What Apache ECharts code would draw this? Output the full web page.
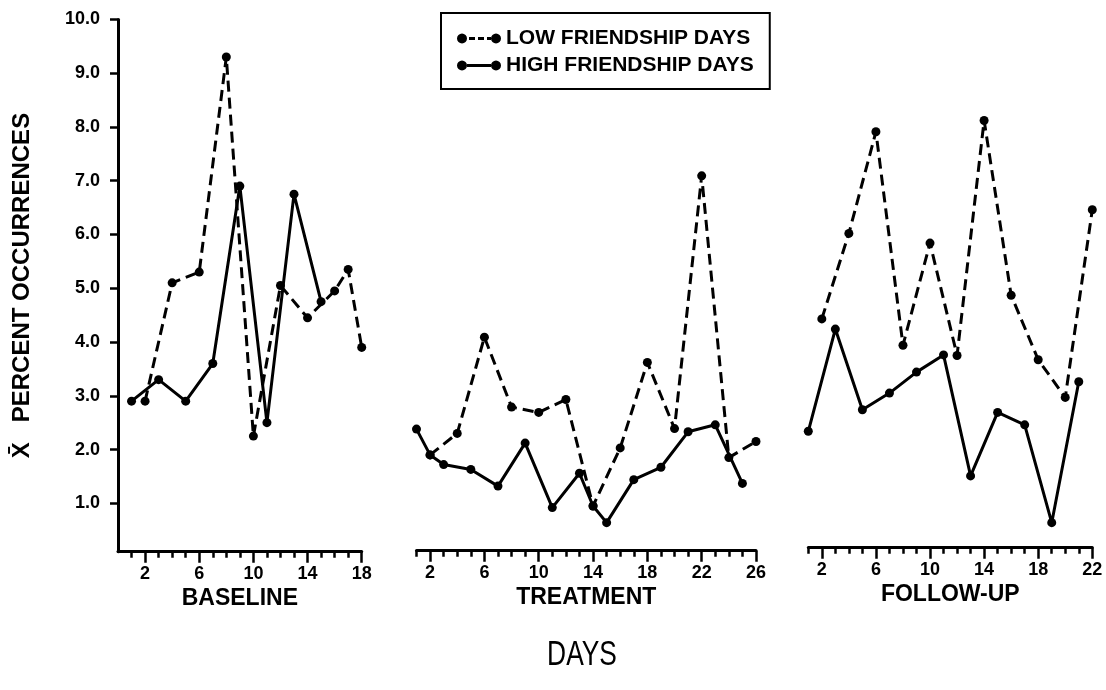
<!DOCTYPE html>
<html>
<head>
<meta charset="utf-8">
<script src="https://cdn.jsdelivr.net/npm/echarts@6/dist/echarts.min.js"></script>
<style>html,body{margin:0;padding:0;background:#fff}#c{width:1106px;height:690px}</style>
</head>
<body>
<div id="c"></div>
<script>
// ---- data ----
const baselineHighDays = [1, 3, 5, 7, 9, 11, 13, 15];
const baselineHigh     = [2.9, 3.3, 2.9, 3.6, 6.9, 2.5, 6.75, 4.75];
const baselineLowDays  = [2, 4, 6, 8, 10, 12, 14, 16, 17, 18];
const baselineLow      = [2.9, 5.1, 5.3, 9.3, 2.25, 5.05, 4.45, 4.95, 5.35, 3.9];

const treatmentHighDays = [1, 2, 3, 5, 7, 9, 11, 13, 14, 15, 17, 19, 21, 23, 25];
const treatmentHigh     = [2.38, 1.9, 1.72, 1.63, 1.32, 2.12, 0.92, 1.56, 0.95, 0.64, 1.44, 1.67, 2.33, 2.46, 1.37];
const treatmentLowDays  = [2, 4, 6, 8, 10, 12, 14, 16, 18, 20, 22, 24, 26];
const treatmentLow      = [1.9, 2.3, 4.09, 2.79, 2.69, 2.93, 0.95, 2.03, 3.62, 2.39, 7.09, 1.85, 2.15];

const followHighDays = [1, 3, 5, 7, 9, 11, 13, 15, 17, 19, 21];
const followHigh     = [2.34, 4.24, 2.74, 3.05, 3.44, 3.76, 1.51, 2.69, 2.46, 0.64, 3.26];
const followLowDays  = [2, 4, 6, 8, 10, 12, 14, 16, 18, 20, 22];
const followLow      = [4.43, 6.02, 7.91, 3.94, 5.84, 3.75, 8.12, 4.87, 3.67, 2.97, 6.46];

const yTickValues        = [1, 2, 3, 4, 5, 6, 7, 8, 9, 10];
const baselineLabelDays  = [2, 6, 10, 14, 18];
const treatmentLabelDays = [2, 6, 10, 14, 18, 22, 26];
const followLabelDays    = [2, 6, 10, 14, 18, 22];

const LOW_NAME = 'LOW FRIENDSHIP DAYS';
const HIGH_NAME = 'HIGH FRIENDSHIP DAYS';
const Y_NAME = 'X\u0304   PERCENT OCCURRENCES';

// ---- layout / style ----
const FONT = '"Liberation Sans", Arial, sans-serif';
const panels = [
  { title: 'BASELINE',  min: 0, max: 18, left: 118,   width: 243.7, offset: 0,  labels: baselineLabelDays,
    lowDays: baselineLowDays, low: baselineLow, highDays: baselineHighDays, high: baselineHigh },
  { title: 'TREATMENT', min: 1, max: 26, left: 416.5, width: 339.5, offset: -1, labels: treatmentLabelDays,
    lowDays: treatmentLowDays, low: treatmentLow, highDays: treatmentHighDays, high: treatmentHigh },
  { title: 'FOLLOW-UP', min: 1, max: 22, left: 808.3, width: 284,   offset: -4, labels: followLabelDays,
    lowDays: followLowDays, low: followLow, highDays: followHighDays, high: followHigh }
];

const grids = [], xAxes = [], yAxes = [], series = [];
panels.forEach((p, i) => {
  grids.push({ left: p.left, width: p.width, top: 19.4, bottom: 138.3, outerBoundsMode: 'none', containLabel: false });
  const minorTicks = [];
  for (let d = 1; d <= p.max; d++) minorTicks.push(d);
  xAxes.push({
    type: 'value', gridIndex: i, min: p.min, max: p.max, position: 'bottom', offset: p.offset,
    axisLine: { show: true, onZero: false, lineStyle: { color: '#000', width: 3 } },
    axisTick: { show: true, customValues: minorTicks, length: 6, lineStyle: { color: '#000', width: 2.5 } },
    axisLabel: { show: false }, splitLine: { show: false }
  });
  xAxes.push({
    type: 'value', gridIndex: i, min: p.min, max: p.max, position: 'bottom', offset: p.offset,
    axisLine: { show: false, onZero: false },
    axisTick: { show: true, customValues: p.labels, length: 11, lineStyle: { color: '#000', width: 2.5 } },
    axisLabel: { show: true, customValues: p.labels, margin: 13, color: '#000', fontSize: 18, fontWeight: 'bold', fontFamily: FONT },
    splitLine: { show: false },
    name: p.title, nameLocation: 'middle', nameGap: 30,
    nameTextStyle: { color: '#000', fontSize: 23, fontWeight: 'bold', fontFamily: FONT }
  });
  if (i === 0) {
    yAxes.push({
      type: 'value', gridIndex: i, min: 0.1, max: 10, position: 'left',
      axisLine: { show: true, onZero: false, lineStyle: { color: '#000', width: 3 } },
      axisTick: { show: true, customValues: yTickValues, length: 8, lineStyle: { color: '#000', width: 2.5 } },
      axisLabel: { show: true, customValues: yTickValues, formatter: v => Number(v).toFixed(1), margin: 18,
                   color: '#000', fontSize: 18, fontWeight: 'bold', fontFamily: FONT },
      splitLine: { show: false },
      name: Y_NAME, nameLocation: 'middle', nameRotate: 90, nameGap: 84,
      nameTextStyle: { color: '#000', fontSize: 24, fontWeight: 'bold', fontFamily: FONT }
    });
  } else {
    yAxes.push({ type: 'value', gridIndex: i, min: 0.1, max: 10, show: false, splitLine: { show: false } });
  }
  series.push({
    type: 'line', name: LOW_NAME, xAxisIndex: 2 * i, yAxisIndex: i,
    data: p.lowDays.map((d, k) => [d, p.low[k]]),
    symbol: 'circle', symbolSize: 9, showSymbol: true,
    lineStyle: { color: '#000', width: 3, type: [11, 6] },
    itemStyle: { color: '#000' }, emphasis: { disabled: true }
  });
  series.push({
    type: 'line', name: HIGH_NAME, xAxisIndex: 2 * i, yAxisIndex: i,
    data: p.highDays.map((d, k) => [d, p.high[k]]),
    symbol: 'circle', symbolSize: 9, showSymbol: true,
    lineStyle: { color: '#000', width: 3, type: 'solid' },
    itemStyle: { color: '#000' }, emphasis: { disabled: true }
  });
});

// legend icon shapes: dot - dash - dot, built as polygons (44 x 10 box)
function dot(cx) {
  let s = '';
  for (let k = 0; k < 16; k++) {
    const a = k / 16 * Math.PI * 2;
    s += (k === 0 ? 'M' : 'L') + (cx + 5 * Math.cos(a)).toFixed(2) + ',' + (5 + 5 * Math.sin(a)).toFixed(2);
  }
  return s + 'Z';
}
function bar(x0, x1) { return 'M' + x0 + ',3.5L' + x1 + ',3.5L' + x1 + ',6.5L' + x0 + ',6.5Z'; }
const dashedIcon = 'path://' + dot(5) + bar(12, 18) + bar(21, 27) + bar(30, 34) + dot(39);
const solidIcon  = 'path://' + dot(5) + bar(10, 34) + dot(39);

const chart = echarts.init(document.getElementById('c'), null, { renderer: 'canvas' });
chart.setOption({
  backgroundColor: '#fff',
  animation: false,
  grid: grids,
  xAxis: xAxes,
  yAxis: yAxes,
  series: series,
  legend: {
    show: true, orient: 'vertical', left: 441, top: 13,
    data: [{ name: LOW_NAME, icon: dashedIcon }, { name: HIGH_NAME, icon: solidIcon }],
    itemWidth: 44, itemHeight: 10, itemGap: 6,
    padding: [15, 16, 13, 16],
    borderColor: '#000', borderWidth: 2, borderRadius: 0,
    itemStyle: { color: '#000', borderWidth: 0 },
    textStyle: { color: '#000', fontSize: 21, fontWeight: 'bold', fontFamily: FONT },
    selectedMode: false
  },
  graphic: [{
    type: 'text', x: 582, y: 655, scaleX: 0.85, scaleY: 1.15,
    style: { text: 'DAYS', fill: '#000', fontSize: 31, fontFamily: FONT, align: 'center', verticalAlign: 'middle' }
  }]
});
</script>
</body>
</html>
